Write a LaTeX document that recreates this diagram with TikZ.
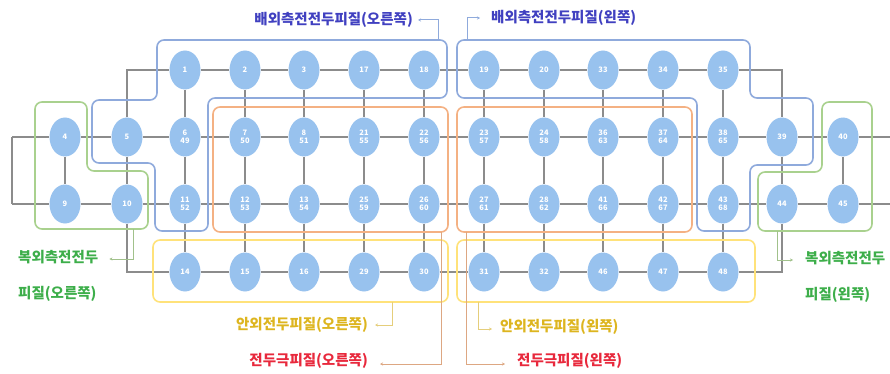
\documentclass[tikz,border=0pt]{standalone}
\usepackage{fontspec}
\newfontfamily\kr{Noto Sans CJK KR}
\usetikzlibrary{arrows.meta,shapes.geometric}
\definecolor{edgegray}{HTML}{8C8C8C}
\definecolor{nodefill}{HTML}{98C2EE}
\definecolor{grpblue}{HTML}{8FAADC}
\definecolor{grpgreen}{HTML}{A9D18E}
\definecolor{grporange}{HTML}{F4B183}
\definecolor{grpyellow}{HTML}{FFE27A}
\definecolor{bluetxt}{HTML}{4040C0}
\definecolor{greentxt}{HTML}{3DAE4A}
\definecolor{yellowtxt}{HTML}{DDB51F}
\definecolor{redtxt}{HTML}{E8283C}
\pgfdeclarelayer{bg}
\pgfsetlayers{bg,main}
\begin{document}
\begin{tikzpicture}[x=1pt,y=-1pt,
  gn/.style={ellipse, fill=nodefill, minimum width=31pt, minimum height=39pt, inner sep=0pt, text=white, align=center, font=\kr\bfseries\fontsize{7.5}{8}\selectfont},
  edge/.style={draw=edgegray, line width=2pt},
  grp/.style={line width=1.6pt, rounded corners=7pt},
  lab/.style={font=\kr\bfseries\fontsize{14.5}{16}\selectfont, inner sep=0pt},
  lconn/.style={line width=1pt, -{Stealth[length=3pt,width=3pt]}}
]
\useasboundingbox (0,0) rectangle (890,374);
% nodes
\foreach \n/\x/\y/\t in {1/185/70/1, 2/245/70/2, 3/304/70/3, 17/364/70/17, 18/424/70/18, 19/484/70/19, 20/544/70/20, 33/603/70/33, 34/663/70/34, 35/723/70/35,
  4/65/137/4, 5/127/137/5, 6/185/137/{6\\49}, 7/245/137/{7\\50}, 8/304/137/{8\\51}, 21/364/137/{21\\55}, 22/424/137/{22\\56}, 23/484/137/{23\\57}, 24/544/137/{24\\58}, 36/603/137/{36\\63}, 37/663/137/{37\\64}, 38/723/137/{38\\65}, 39/782/137/39, 40/843/137/40,
  9/65/204/9, 10/127/204/10, 11/185/204/{11\\52}, 12/245/204/{12\\53}, 13/304/204/{13\\54}, 25/364/204/{25\\59}, 26/424/204/{26\\60}, 27/484/204/{27\\61}, 28/544/204/{28\\62}, 41/603/204/{41\\66}, 42/663/204/{42\\67}, 43/723/204/{43\\68}, 44/782/204/44, 45/843/204/45,
  14/185/272/14, 15/245/272/15, 16/304/272/16, 29/364/272/29, 30/424/272/30, 31/484/272/31, 32/544/272/32, 46/603/272/46, 47/663/272/47, 48/723/272/48}
  \node[gn] (n\n) at (\x,\y) {\t};
\coordinate (L2) at (12,137);
\coordinate (L3) at (12,204);
\coordinate (R2) at (890,137);
\coordinate (R3) at (890,204);
\begin{pgfonlayer}{bg}
% grid connectors
\draw[edge] (n1)--(n2)--(n3)--(n17)--(n18)--(n19)--(n20)--(n33)--(n34)--(n35);
\draw[edge] (n5) |- (n1);
\draw[edge] (n35) -| (n39);
\draw[edge] (L2)--(n4)--(n5)--(n6)--(n7)--(n8)--(n21)--(n22)--(n23)--(n24)--(n36)--(n37)--(n38)--(n39)--(n40)--(R2);
\draw[edge] (L2)--(L3);
\draw[edge] (L3)--(n9)--(n10)--(n11)--(n12)--(n13)--(n25)--(n26)--(n27)--(n28)--(n41)--(n42)--(n43)--(n44)--(n45)--(R3);
\draw[edge] (n14)--(n15)--(n16)--(n29)--(n30)--(n31)--(n32)--(n46)--(n47)--(n48);
\draw[edge] (n10) |- (n14);
\draw[edge] (n48) -| (n44);
\foreach \a/\b in {4/9,5/10,39/44,40/45,1/6,6/11,11/14,2/7,7/12,12/15,3/8,8/13,13/16,17/21,21/25,25/29,18/22,22/26,26/30,19/23,23/27,27/31,20/24,24/28,28/32,33/36,36/41,41/46,34/37,37/42,42/47,35/38,38/43,43/48}
  \draw[edge] (n\a)--(n\b);
% groups
\draw[grp, grpblue] (157,40)--(447,40)--(447,98)--(208,98)--(208,231)--(155,231)--(155,163)--(92,163)--(92,100)--(157,100)--cycle;
\draw[grp, grpblue] (457,40)--(750,40)--(750,98)--(813,98)--(813,165)--(750,165)--(750,231)--(697,231)--(697,98)--(457,98)--cycle;
\draw[grp, grpgreen] (35,102)--(87,102)--(87,171)--(148,171)--(148,229)--(35,229)--cycle;
\draw[grp, grpgreen] (822,102)--(872,102)--(872,231)--(758,231)--(758,172)--(822,172)--cycle;
\draw[grp, grporange] (213,107) rectangle (448,232);
\draw[grp, grporange] (457,107) rectangle (692,232);
\draw[grp, grpyellow] (153,240) rectangle (448,302);
\draw[grp, grpyellow] (457,240) rectangle (755,302);
\end{pgfonlayer}
% labels
\node[lab, text=bluetxt, anchor=east] (tBR) at (413,20) {배외측전전두피질(오른쪽)};
\node[lab, text=bluetxt, anchor=west] (tBL) at (491,18) {배외측전전두피질(왼쪽)};
\node[lab, text=greentxt, anchor=west] (tGR1) at (18,257) {복외측전전두};
\node[lab, text=greentxt, anchor=west] (tGR2) at (18,294) {피질(오른쪽)};
\node[lab, text=greentxt, anchor=west] (tGL1) at (805,258) {복외측전전두};
\node[lab, text=greentxt, anchor=west] (tGL2) at (805,295) {피질(왼쪽)};
\node[lab, text=yellowtxt, anchor=east] (tYR) at (368,325) {안외전두피질(오른쪽)};
\node[lab, text=yellowtxt, anchor=west] (tYL) at (500,327) {안외전두피질(왼쪽)};
\node[lab, text=redtxt, anchor=east] (tOR) at (368,361) {전두극피질(오른쪽)};
\node[lab, text=redtxt, anchor=west] (tOL) at (517,361) {전두극피질(왼쪽)};
% label connectors
\coordinate (cBR) at (438,40);
\coordinate (cBL) at (467,40);
\coordinate (cGR) at (133,229);
\coordinate (cGL) at (777,231);
\coordinate (cYR) at (392,302);
\coordinate (cYL) at (478,302);
\coordinate (cOR) at (441,232);
\coordinate (cOL) at (466,232);
\draw[lconn, grpblue] (cBR) |- ([xshift=5pt]tBR.east);
\draw[lconn, grpblue] (cBL) |- ([xshift=-11pt]tBL.west);
\draw[lconn, grpgreen!80!gray] (cGR) |- ([xshift=11pt,yshift=-2pt]tGR1.east);
\draw[lconn, grpgreen!80!gray] (cGL) |- ([xshift=-12pt,yshift=-2pt]tGL1.west);
\draw[lconn, grpyellow!80!gray] (cYR) |- ([xshift=7pt]tYR.east);
\draw[lconn, grpyellow!80!gray] (cYL) |- ([xshift=-8pt,yshift=-2pt]tYL.west);
\draw[lconn, grporange!80!gray] (cOR) |- ([xshift=12pt,yshift=-3pt]tOR.east);
\draw[lconn, grporange!80!gray] (cOL) |- ([xshift=-12pt,yshift=-3pt]tOL.west);
\end{tikzpicture}
\end{document}
